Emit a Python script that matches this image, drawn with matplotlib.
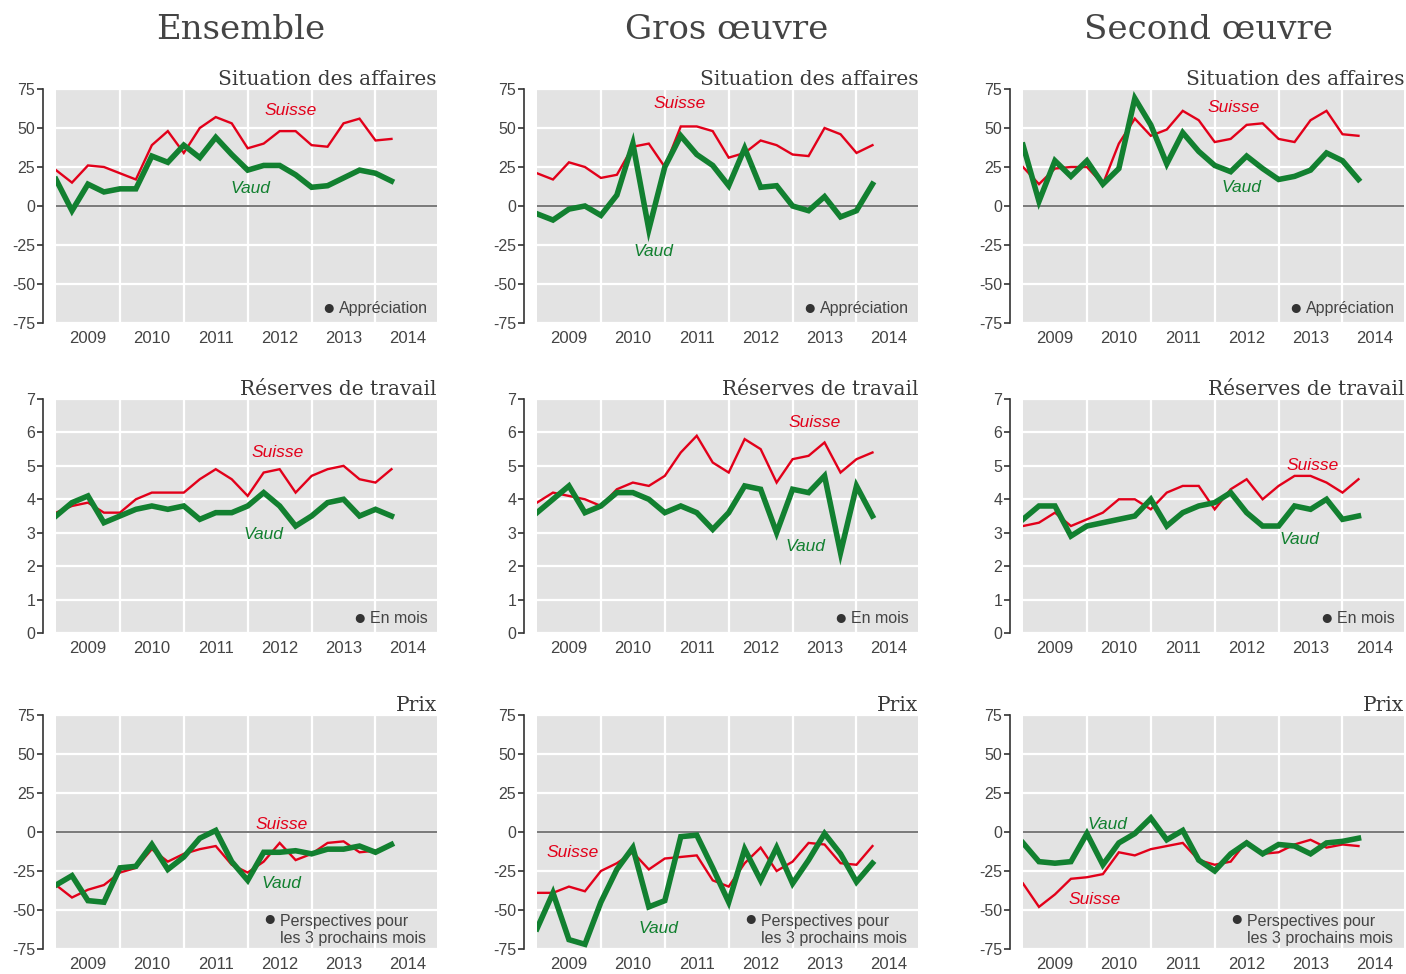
import numpy as np
import matplotlib
matplotlib.use("Agg")
import matplotlib.pyplot as plt

plt.rcParams['font.family'] = ['Liberation Sans', 'DejaVu Sans']
plt.rcParams['axes.unicode_minus'] = False

# --- Données (trimestrielles, 2009 T1 -> 2014 T2) ---
years = ['2009', '2010', '2011', '2012', '2013', '2014']
columns = ['Ensemble', 'Gros œuvre', 'Second œuvre']
rows = ['Situation des affaires', 'Réserves de travail', 'Prix']
notes = ['Appréciation', 'En mois', 'Perspectives pour\nles 3 prochains mois']

ens_sit_suisse = [23, 15, 26, 25, 21, 17, 39, 48, 34, 50, 57, 53, 37, 40, 48, 48, 39, 38, 53, 56, 42, 43]
ens_sit_vaud = [17, -3, 14, 9, 11, 11, 32, 28, 39, 31, 44, 33, 23, 26, 26, 20, 12, 13, 18, 23, 21, 16]
gros_sit_suisse = [21, 17, 28, 25, 18, 20, 38, 40, 25, 51, 51, 48, 31, 34, 42, 39, 33, 32, 50, 46, 34, 39]
gros_sit_vaud = [-5, -9, -2, 0, -6, 7, 40, -15, 25, 45, 33, 26, 13, 37, 12, 13, 0, -3, 6, -7, -3, 14]
sec_sit_suisse = [25, 14, 24, 25, 25, 14, 40, 56, 45, 49, 61, 55, 41, 43, 52, 53, 43, 41, 55, 61, 46, 45]
sec_sit_vaud = [39, 3, 29, 19, 29, 14, 24, 69, 52, 27, 47, 35, 26, 22, 32, 24, 17, 19, 23, 34, 29, 17]

ens_res_suisse = [3.6, 3.8, 3.9, 3.6, 3.6, 4.0, 4.2, 4.2, 4.2, 4.6, 4.9, 4.6, 4.1, 4.8, 4.9, 4.2, 4.7, 4.9, 5.0, 4.6, 4.5, 4.9]
ens_res_vaud = [3.5, 3.9, 4.1, 3.3, 3.5, 3.7, 3.8, 3.7, 3.8, 3.4, 3.6, 3.6, 3.8, 4.2, 3.8, 3.2, 3.5, 3.9, 4.0, 3.5, 3.7, 3.5]
gros_res_suisse = [3.9, 4.2, 4.1, 4.0, 3.8, 4.3, 4.5, 4.4, 4.7, 5.4, 5.9, 5.1, 4.8, 5.8, 5.5, 4.5, 5.2, 5.3, 5.7, 4.8, 5.2, 5.4]
gros_res_vaud = [3.6, 4.0, 4.4, 3.6, 3.8, 4.2, 4.2, 4.0, 3.6, 3.8, 3.6, 3.1, 3.6, 4.4, 4.3, 3.0, 4.3, 4.2, 4.7, 2.4, 4.4, 3.5]
sec_res_suisse = [3.2, 3.3, 3.6, 3.2, 3.4, 3.6, 4.0, 4.0, 3.7, 4.2, 4.4, 4.4, 3.7, 4.3, 4.6, 4.0, 4.4, 4.7, 4.7, 4.5, 4.2, 4.6]
sec_res_vaud = [3.4, 3.8, 3.8, 2.9, 3.2, 3.3, 3.4, 3.5, 4.0, 3.2, 3.6, 3.8, 3.9, 4.2, 3.6, 3.2, 3.2, 3.8, 3.7, 4.0, 3.4, 3.5]

ens_prix_suisse = [-34, -42, -37, -34, -26, -23, -11, -19, -14, -11, -9, -21, -26, -19, -7, -18, -14, -7, -6, -13, -12, -8]
ens_prix_vaud = [-34, -28, -44, -45, -23, -22, -8, -24, -16, -4, 1, -19, -31, -13, -13, -12, -14, -11, -11, -9, -13, -8]
gros_prix_suisse = [-39, -39, -35, -38, -25, -20, -13, -24, -17, -16, -15, -31, -35, -20, -10, -25, -19, -7, -8, -20, -21, -9]
gros_prix_vaud = [-62, -39, -69, -72, -45, -24, -10, -48, -44, -3, -2, -23, -45, -11, -31, -10, -33, -18, -1, -14, -32, -20]
sec_prix_suisse = [-33, -48, -40, -30, -29, -27, -13, -15, -11, -9, -7, -18, -21, -19, -6, -14, -13, -8, -5, -10, -8, -9]
sec_prix_vaud = [-7, -19, -20, -19, -1, -21, -7, -1, 9, -5, 1, -18, -25, -14, -7, -14, -8, -9, -14, -7, -6, -4]

series = [
    [(ens_sit_suisse, ens_sit_vaud), (gros_sit_suisse, gros_sit_vaud), (sec_sit_suisse, sec_sit_vaud)],
    [(ens_res_suisse, ens_res_vaud), (gros_res_suisse, gros_res_vaud), (sec_res_suisse, sec_res_vaud)],
    [(ens_prix_suisse, ens_prix_vaud), (gros_prix_suisse, gros_prix_vaud), (sec_prix_suisse, sec_prix_vaud)],
]

# positions des étiquettes "Suisse" / "Vaud" (x trimestre, y valeur)
label_pos = [
    [((14.7, 61), (12.2, 11)), ((8.9, 66), (7.3, -29)), ((13.2, 63), (13.7, 12))],
    [((13.9, 5.4), (13.0, 2.95)), ((17.4, 6.3), (16.8, 2.6)), ((18.1, 5.0), (17.3, 2.8))],
    [((14.1, 5), (14.1, -33)), ((2.2, -13), (7.6, -62)), ((4.5, -43), (5.3, 4.5))],
]

RED = '#e2001a'
GREEN = '#128030'
BG = '#e3e3e3'
TXT = '#444444'

W, H = 1406, 974
fig = plt.figure(figsize=(W / 100, H / 100), dpi=100)

col_left = [56, 537, 1023]
col_w = 381
row_top = [89, 399, 715]
row_h = 234
title_x = [241, 727, 1209]

x = np.arange(len(ens_sit_suisse))

for c in range(3):
    fig.text(title_x[c] / W, 1 - 30 / H, columns[c], ha='center', va='center',
             fontsize=24.5, family='DejaVu Serif', color=TXT)
    for r in range(3):
        ax = fig.add_axes([col_left[c] / W, 1 - (row_top[r] + row_h) / H, col_w / W, row_h / H])
        ax.set_facecolor(BG)
        suisse, vaud = series[r][c]

        if r == 1:
            ax.set_ylim(0, 7)
            ax.set_yticks(range(0, 8))
        else:
            ax.set_ylim(-75, 75)
            ax.set_yticks(range(-75, 76, 25))
            ax.axhline(0, color='#555555', lw=1.1, zorder=2)
        ax.set_xlim(0, 23.85)

        ax.set_xticks([4, 8, 12, 16, 20])
        ax.set_xticks([2, 6, 10, 14, 18, 22], minor=True)
        ax.set_xticklabels([])
        ax.set_xticklabels(years, minor=True)
        ax.tick_params(axis='x', which='both', length=0, pad=5.5, labelsize=12, labelcolor=TXT)
        ax.tick_params(axis='y', direction='out', length=4, width=1.2, color='#333333',
                       pad=1.5, labelsize=11.5, labelcolor=TXT)
        ax.grid(True, which='major', color='white', lw=1.6, zorder=0)
        ax.set_axisbelow(True)

        for s in ['top', 'right', 'bottom']:
            ax.spines[s].set_visible(False)
        ax.spines['left'].set_position(('outward', 9.5))
        ax.spines['left'].set_color('#333333')
        ax.spines['left'].set_linewidth(1.2)
        lo, hi = ax.get_ylim()
        ax.spines['left'].set_bounds(lo, hi)

        ax.plot(x, suisse, color=RED, lw=1.7, zorder=3, solid_joinstyle='miter')
        ax.plot(x, vaud, color=GREEN, lw=4.0, zorder=4, solid_joinstyle='miter')

        (sx, sy), (vx, vy) = label_pos[r][c]
        ax.text(sx, sy, 'Suisse', color=RED, style='italic', fontsize=12.5, ha='center', va='center', zorder=5)
        ax.text(vx, vy, 'Vaud', color=GREEN, style='italic', fontsize=12.5, ha='center', va='center', zorder=5)

        ax.set_title(rows[r], loc='right', pad=3, fontsize=14.5, family='DejaVu Serif', color='#3a3a3a')

        # petite légende en bas à droite
        if r < 2:
            ax.text(0.975, 0.062, notes[r], transform=ax.transAxes, ha='right', va='center',
                    fontsize=11.5, color=TXT)
            tw = {0: 0.232, 1: 0.152}[r]
            ax.text(0.975 - tw - 0.01, 0.062, '●', transform=ax.transAxes, ha='right', va='center',
                    fontsize=15, color='#333333')
        else:
            ax.text(0.587, 0.082, notes[r], transform=ax.transAxes, ha='left', va='center',
                    fontsize=11.5, color=TXT, linespacing=1.2)
            ax.text(0.578, 0.124, '●', transform=ax.transAxes, ha='right', va='center',
                    fontsize=15, color='#333333')

fig.savefig('out.png', dpi=100)
